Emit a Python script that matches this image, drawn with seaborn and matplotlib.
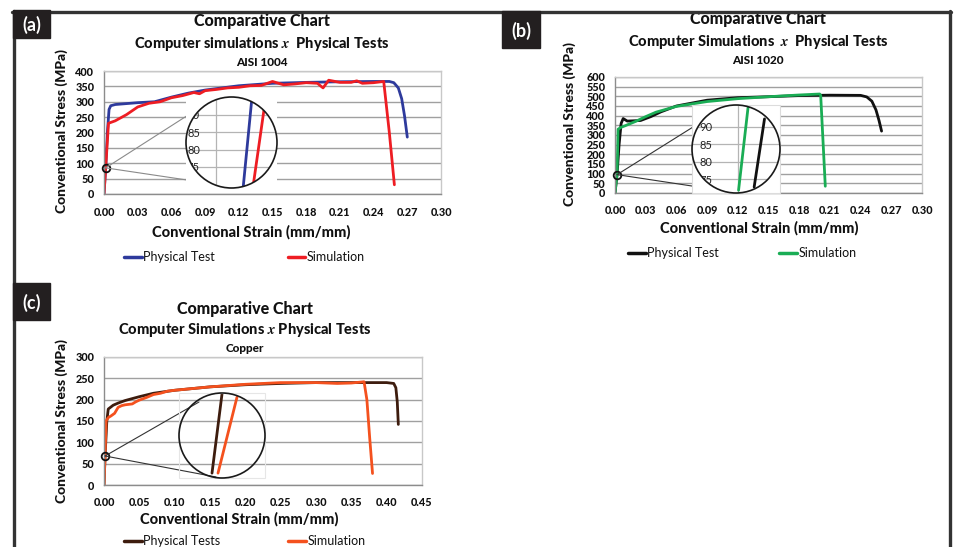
import numpy as np
import pandas as pd
import matplotlib
matplotlib.use('Agg')
import matplotlib.pyplot as plt
import seaborn as sns
from matplotlib.patches import Ellipse, Rectangle, ConnectionPatch, PathPatch
from matplotlib.path import Path
from matplotlib.lines import Line2D
from matplotlib.ticker import FormatStrFormatter

# --- Data ---
# (a) AISI 1004
a_phys_strain = [0.0, 0.0015, 0.003, 0.0045, 0.006, 0.01, 0.02, 0.03, 0.045, 0.06, 0.075, 0.09,
                 0.105, 0.12, 0.135, 0.15, 0.18, 0.21, 0.24, 0.254, 0.258, 0.262, 0.265, 0.2675, 0.27]
a_phys_stress = [0, 85, 200, 275, 287, 291, 294, 297, 300, 315, 328, 338,
                 345, 352, 356, 360, 363, 365, 366, 366, 362, 345, 310, 255, 185]
a_sim_strain = [0.0, 0.0015, 0.004, 0.01, 0.02, 0.03, 0.04, 0.05, 0.06, 0.07, 0.08, 0.085, 0.09,
                0.10, 0.11, 0.12, 0.13, 0.14, 0.15, 0.16, 0.17, 0.18, 0.19, 0.195, 0.2, 0.21,
                0.22, 0.225, 0.23, 0.24, 0.249, 0.254, 0.2585]
a_sim_stress = [0, 85, 230, 238, 258, 283, 295, 300, 313, 320, 330, 326, 336,
                340, 345, 347, 352, 353, 366, 355, 358, 362, 360, 345, 370, 363,
                363, 368, 360, 362, 366, 200, 30]

# (b) AISI 1020
b_phys_strain = [0.0, 0.002, 0.004, 0.006, 0.008, 0.012, 0.025, 0.035, 0.045, 0.06, 0.09, 0.12,
                 0.15, 0.18, 0.21, 0.24, 0.246, 0.251, 0.255, 0.258, 0.2605]
b_phys_stress = [0, 95, 250, 360, 385, 372, 375, 395, 420, 450, 480, 493,
                 498, 504, 506, 505, 497, 475, 430, 375, 320]
b_sim_strain = [0.0, 0.002, 0.003, 0.006, 0.01, 0.02, 0.03, 0.04, 0.06, 0.09, 0.12, 0.15,
                0.18, 0.2, 0.201, 0.2055]
b_sim_stress = [0, 95, 330, 340, 348, 370, 395, 418, 448, 473, 488, 498,
                507, 512, 505, 35]

# (c) Copper
c_phys_strain = [0.0, 0.0015, 0.004, 0.006, 0.013, 0.02, 0.03, 0.05, 0.07, 0.1, 0.15, 0.2,
                 0.25, 0.3, 0.35, 0.4, 0.41, 0.413, 0.415, 0.4165]
c_phys_stress = [0, 68, 150, 178, 187, 192, 198, 207, 215, 222, 230, 235,
                 238, 240, 240, 240, 238, 228, 195, 142]
c_sim_strain = [0.0, 0.0015, 0.003, 0.006, 0.01, 0.015, 0.02, 0.025, 0.03, 0.04, 0.045, 0.05,
                0.06, 0.07, 0.08, 0.09, 0.1, 0.15, 0.2, 0.25, 0.3, 0.33, 0.35, 0.368,
                0.372, 0.376, 0.38]
c_sim_stress = [0, 68, 150, 158, 162, 168, 182, 186, 188, 190, 195, 199,
                205, 212, 215, 220, 222, 230, 236, 240, 240, 238, 239, 242,
                200, 110, 27]

# zoom marker on each chart (strain, stress)
a_zoom_pt = (0.0015, 85)
b_zoom_pt = (0.002, 95)
c_zoom_pt = (0.0015, 68)

# magnified segments shown inside the circles
a_in_phys_x, a_in_phys_y = [0.000681, 0.0007375], [69.2, 94.3]
a_in_sim_x, a_in_sim_y = [0.00075, 0.000819], [70.4, 91.4]
b_in_sim_x, b_in_sim_y = [0.000506, 0.000563], [71.8, 95.5]
b_in_phys_x, b_in_phys_y = [0.0006, 0.0006625], [72.7, 92.3]
c_in_phys_x, c_in_phys_y = [0.000465, 0.000515], [61.4, 84.2]
c_in_sim_x, c_in_sim_y = [0.000495, 0.00059], [61.4, 83.3]

inset_yticks = [75, 80, 85, 90]

# --- Figure setup ---
W, H = 957, 547
sns.set_theme(style='white')
plt.rcParams['font.family'] = ['Lato', 'DejaVu Sans']
plt.rcParams['font.weight'] = 'black'
plt.rcParams['mathtext.fontset'] = 'stix'

fig = plt.figure(figsize=(W / 100, H / 100), dpi=100)


def fx(px):
    return px / W


def fy(py):
    return 1 - py / H


def rect(l, t, r, b):
    return [l / W, 1 - b / H, (r - l) / W, (b - t) / H]


GRID = '#a0a0a0'
INK = '#111111'


def main_axes(box, xmax, xstep, ymax):
    ax = fig.add_axes(rect(*box))
    ax.set_xlim(0, xmax)
    ax.set_ylim(0, ymax)
    ax.set_xticks(np.round(np.arange(0, xmax + xstep / 2, xstep), 3))
    ax.set_yticks(np.arange(0, ymax + 1, 50))
    ax.xaxis.set_major_formatter(FormatStrFormatter('%.2f'))
    ax.grid(axis='y', color=GRID, lw=1)
    ax.grid(axis='x', visible=False)
    for s in ['left', 'bottom']:
        ax.spines[s].set_color('#8c8c8c')
        ax.spines[s].set_linewidth(1)
    for s in ['top', 'right']:
        ax.spines[s].set_color('#c8c8c8')
        ax.spines[s].set_linewidth(1)
    ax.tick_params(axis='x', length=4, color='#8c8c8c', pad=5, labelsize=7.8, labelcolor=INK)
    ax.tick_params(axis='y', length=3, color='#8c8c8c', pad=4, labelsize=7.8, labelcolor=INK)
    return ax


def plot_series(ax, x, y, color, label=None, lw=2):
    sns.lineplot(x=x, y=y, ax=ax, color=color, lw=lw, sort=False,
                 estimator=None, label=label, legend=label is not None)


def ring_mask():
    # square minus circle, in axes coords: hides whatever falls outside the lens
    sq = [(0, 0), (1, 0), (1, 1), (0, 1), (0, 0)]
    th = np.linspace(0, 2 * np.pi, 181)[::-1]
    circ = list(zip(0.5 + 0.5 * np.cos(th), 0.5 + 0.5 * np.sin(th)))
    verts = sq + circ
    codes = ([Path.MOVETO] + [Path.LINETO] * 3 + [Path.CLOSEPOLY] +
             [Path.MOVETO] + [Path.LINETO] * (len(circ) - 2) + [Path.CLOSEPOLY])
    return Path(verts, codes)


def inset(box, xlim, ylim, xticks, yticks, series, face, border, label_pad):
    iax = fig.add_axes(rect(*box), zorder=3)
    iax.set_facecolor(face)
    iax.set_xlim(*xlim)
    iax.set_ylim(*ylim)
    iax.set_xticks(xticks)
    iax.set_yticks(yticks)
    iax.set_xticklabels([])
    iax.grid(True, color='#b4b4b4', lw=0.9)
    iax.tick_params(axis='x', length=0)
    iax.tick_params(axis='y', length=0, pad=label_pad, labelsize=8, labelcolor='#222222')
    for lab in iax.get_yticklabels():
        lab.set_fontweight('normal')
    for s in iax.spines.values():
        s.set_visible(False)
    circ = Ellipse((0.5, 0.5), 1, 1, transform=iax.transAxes)
    for x, y, c in series:
        plot_series(iax, x, y, c)
        iax.lines[-1].set_clip_path(circ)
    for t in iax.xaxis.get_major_ticks() + iax.yaxis.get_major_ticks():
        t.gridline.set_clip_path(circ)
    if face != 'none':
        iax.add_patch(PathPatch(ring_mask(), transform=iax.transAxes, fc=face, ec='none',
                                zorder=4, clip_on=False))
    if border is not None:
        iax.add_patch(Rectangle((0, 0), 1, 1, transform=iax.transAxes, fill=False,
                                ec=border, lw=0.8, zorder=4.5, clip_on=False))
    iax.add_patch(Ellipse((0.5, 0.5), 1, 1, transform=iax.transAxes, fill=False,
                          ec='#1a1a1a', lw=1.2, zorder=5, clip_on=False))
    iax.set_xlabel('')
    iax.set_ylabel('')
    return iax


def connect(ax, pt, ends, color):
    ax.plot([pt[0]], [pt[1]], marker='o', ms=5.5, mfc='none', mec=INK, mew=1.3,
            zorder=6, clip_on=False)
    for ex, ey in ends:
        con = ConnectionPatch(xyA=pt, coordsA='data', axesA=ax,
                              xyB=(fx(ex), fy(ey)), coordsB='figure fraction',
                              color=color, lw=0.8, zorder=2)
        fig.add_artist(con)


def titles(cx, ys, lines):
    sizes = [11.5, 10.5, 8.5]
    for y, txt, s in zip(ys, lines, sizes):
        fig.text(fx(cx), fy(y), txt, ha='center', va='center', fontsize=s,
                 fontweight='black', color=INK)


def axis_labels(xl, yl):
    fig.text(fx(xl[0]), fy(xl[1]), 'Conventional Strain (mm/mm)', ha='center', va='center',
             fontsize=10.5, fontweight='black', color=INK)
    fig.text(fx(yl[0]), fy(yl[1]), 'Conventional Stress (MPa)', ha='center', va='center',
             rotation=90, fontsize=10, fontweight='black', color=INK)


def legend(ax, x, y, spacing):
    leg = ax.legend(loc='center left', bbox_to_anchor=(fx(x), fy(y)),
                    bbox_transform=fig.transFigure, ncol=2, frameon=False,
                    handlelength=1.4, handletextpad=0.15, columnspacing=spacing,
                    borderpad=0, borderaxespad=0, prop={'size': 9, 'weight': 'normal'})
    for t in leg.get_texts():
        t.set_color(INK)
    for l in leg.get_lines():
        l.set_linewidth(2.5)


# --- Panel (a) ---
ax_a = main_axes((104, 71, 441, 194), 0.30, 0.03, 400)
plot_series(ax_a, a_phys_strain, a_phys_stress, '#2e3a9c', 'Physical Test')
plot_series(ax_a, a_sim_strain, a_sim_stress, '#ee1d23', 'Simulation')
legend(ax_a, 124, 257, 5.8)
titles(262, [21, 44, 63], ['Comparative Chart', 'Computer simulations $x$  Physical Tests',
                           'AISI 1004'])
axis_labels((251, 232), (62, 131))
connect(ax_a, a_zoom_pt, [(196, 110), (187, 180)], '#8a8a8a')
inset((186, 97, 277, 188), (0.00030, 0.000906), (68.9, 95.2), [0.0005], inset_yticks,
      [(a_in_phys_x, a_in_phys_y, '#2e3a9c'), (a_in_sim_x, a_in_sim_y, '#ee1d23')],
      'white', None, -10)

# --- Panel (b) ---
ax_b = main_axes((615, 77, 922, 193), 0.30, 0.03, 600)
plot_series(ax_b, b_phys_strain, b_phys_stress, INK, 'Physical Test')
plot_series(ax_b, b_sim_strain, b_sim_stress, '#1aad55', 'Simulation')
legend(ax_b, 628, 253, 4.8)
titles(758, [19, 42, 60], ['Comparative Chart', 'Computer Simulations  $x$  Physical Tests',
                           'AISI 1020'])
axis_labels((759, 228), (570, 124))
connect(ax_b, b_zoom_pt, [(709, 117), (738, 193)], '#333333')
inset((692, 105, 780, 193), (0.000225, 0.000756), (71.0, 96.3), [0.0005], inset_yticks,
      [(b_in_sim_x, b_in_sim_y, '#1aad55'), (b_in_phys_x, b_in_phys_y, INK)],
      'white', '#dcdcdc', -15)

# --- Panel (c) ---
ax_c = main_axes((104, 357, 422, 485), 0.45, 0.05, 300)
plot_series(ax_c, c_phys_strain, c_phys_stress, '#3d1c0e', 'Physical Tests')
plot_series(ax_c, c_sim_strain, c_sim_stress, '#f4511e', 'Simulation')
legend(ax_c, 124, 541, 5.4)
titles(245, [309, 330, 349], ['Comparative Chart', 'Computer Simulations $x$ Physical Tests',
                              'Copper'])
axis_labels((239, 519), (62, 421))
connect(ax_c, c_zoom_pt, [(199, 402), (216, 477)], '#333333')
inset((179, 393, 265, 478), (0.0003, 0.00073), (60, 84.5), [], [],
      [(c_in_phys_x, c_in_phys_y, '#3d1c0e'), (c_in_sim_x, c_in_sim_y, '#f4511e')],
      'none', '#e6e6e6', 0)

# --- Outer frame and panel tags ---
frame_kw = dict(color='#333333', lw=2.4, transform=fig.transFigure, zorder=10)
fig.add_artist(Line2D([fx(12), fx(951)], [fy(11.5), fy(11.5)], **frame_kw))
fig.add_artist(Line2D([fx(14), fx(14)], [fy(11), fy(547)], **frame_kw))
fig.add_artist(Line2D([fx(950), fx(950)], [fy(11), fy(547)], **frame_kw))

for (l, t, r, b), tag in [((13, 10, 50, 38), '(a)'), ((502, 11, 540, 48), '(b)'),
                          ((13, 283, 50, 320), '(c)')]:
    fig.add_artist(Rectangle((fx(l), fy(b)), (r - l) / W, (b - t) / H,
                             transform=fig.transFigure, color='#231f20', zorder=11))
    fig.text(fx((l + r) / 2), fy((t + b) / 2 + 1), tag, ha='center', va='center',
             color='white', fontsize=13, fontweight='bold', zorder=12)

fig.savefig('out.png', dpi=100)
